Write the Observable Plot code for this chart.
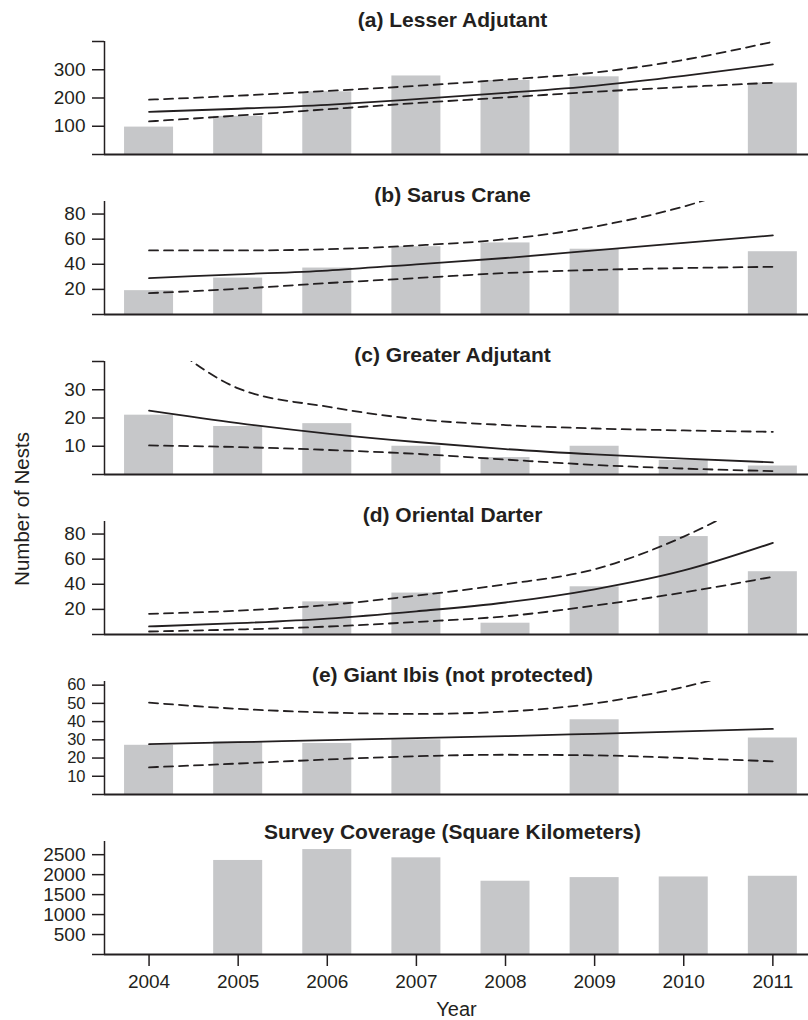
<!DOCTYPE html>
<html><head><meta charset="utf-8">
<script src="https://cdn.jsdelivr.net/npm/d3@7"></script>
<script src="https://cdn.jsdelivr.net/npm/@observablehq/plot@0.6"></script>
<style>
body{margin:0;background:#fff;}
#wrap{position:relative;width:808px;height:1020px;font-family:"Liberation Sans",Arial,sans-serif;color:#231f20;}
#wrap svg{display:block;}
#ylab{position:absolute;left:22px;top:509px;transform:translate(-50%,-50%) rotate(-90deg);font-size:20.5px;white-space:nowrap;}
</style></head><body><div id="wrap"><div id="ylab">Number of Nests</div></div>
<script>
const years = [2004, 2005, 2006, 2007, 2008, 2009, 2010, 2011];

// (a) Lesser Adjutant
const lesserCounts = [97, 135, 222, 278, 262, 275, null, 253];
const lesserFit    = [151, 162, 176, 196, 218, 243, 278, 319];
const lesserUpper  = [194, 208, 225, 243, 265, 290, 335, 399];
const lesserLower  = [117, 138, 160, 182, 202, 222, 239, 254];

// (b) Sarus Crane
const sarusCounts = [19, 29, 37, 54, 57, 52, null, 50];
const sarusFit    = [29, 32, 35, 40, 45, 51, 57, 63];
const sarusUpper  = [51, 51, 52, 55, 60, 70, 86, 110];
const sarusLower  = [17, 20.5, 25, 29, 33, 35.5, 37, 38];

// (c) Greater Adjutant
const greaterCounts = [21, 17, 18, 10, 6, 10, 5, 3];
const greaterFit    = [22.6, 18.2, 14.5, 11.5, 9.0, 7.1, 5.6, 4.3];
const greaterUpper  = [52, 30.5, 24, 19.6, 17.5, 16.3, 15.6, 15.1];
const greaterLower  = [10.3, 9.7, 8.7, 7.3, 5.3, 3.4, 2.1, 1.2];

// (d) Oriental Darter
const darterCounts = [null, null, 26, 33, 9, 38, 78, 50];
const darterFit    = [6.4, 9, 12.7, 18.5, 25.5, 36, 51, 73];
const darterUpper  = [16.5, 19, 23.5, 31, 40, 52, 78, 115];
const darterLower  = [2.4, 4, 6.3, 10, 14.5, 23, 33.5, 46];

// (e) Giant Ibis
const ibisCounts = [27, 29, 28, 30, null, 41, null, 31];
const ibisFit    = [27.6, 28.7, 29.8, 30.9, 32.0, 33.3, 34.6, 36];
const ibisUpper  = [50.4, 47, 45, 44.2, 45.5, 50, 59, 72];
const ibisLower  = [14.9, 17, 19.2, 21, 21.8, 21.5, 20, 18.2];

// Survey coverage
const coverage = [null, 2355, 2628, 2421, 1835, 1926, 1942, 1959];

const titles = ["(a) Lesser Adjutant", "(b) Sarus Crane", "(c) Greater Adjutant",
  "(d) Oriental Darter", "(e) Giant Ibis (not protected)", "Survey Coverage (Square Kilometers)"];
const yMaxes = [400, 90, 40, 90, 62, 2830];
const yTicks = [
  [0, 100, 200, 300, 400],
  [0, 20, 40, 60, 80],
  [0, 10, 20, 30, 40],
  [0, 20, 40, 60, 80],
  [0, 10, 20, 30, 40, 50, 60],
  [0, 500, 1000, 1500, 2000, 2500]
];
const yLabels = [
  [100, 200, 300],
  [20, 40, 60, 80],
  [10, 20, 30],
  [20, 40, 60, 80],
  [10, 20, 30, 40, 50, 60],
  [500, 1000, 1500, 2000, 2500]
];
const series = [
  [lesserCounts, lesserFit, lesserUpper, lesserLower],
  [sarusCounts, sarusFit, sarusUpper, sarusLower],
  [greaterCounts, greaterFit, greaterUpper, greaterLower],
  [darterCounts, darterFit, darterUpper, darterLower],
  [ibisCounts, ibisFit, ibisUpper, ibisLower],
  [coverage, null, null, null]
];

const ink = "#231f20";
const wrap = document.getElementById("wrap");

series.forEach(([counts, fit, upper, lower], i) => {
  const last = i === series.length - 1;
  const H = last ? 220 : 160;
  const mt = 41, fh = 113;
  const bars = years.map((year, j) => ({year, value: counts[j]})).filter(d => d.value != null);
  const marks = [
    Plot.rectY(bars, {x1: d => d.year - 0.275, x2: d => d.year + 0.275, y1: 0, y2: "value", fill: "#c6c7c9"})
  ];
  if (fit) {
    const line = arr => years.map((year, j) => ({year, v: arr[j]}));
    marks.push(Plot.line(line(upper), {x: "year", y: "v", curve: "monotone-x", stroke: ink, strokeWidth: 1.8, strokeDasharray: "9,6", clip: true}));
    marks.push(Plot.line(line(lower), {x: "year", y: "v", curve: "monotone-x", stroke: ink, strokeWidth: 1.8, strokeDasharray: "9,6", clip: true}));
    marks.push(Plot.line(line(fit), {x: "year", y: "v", curve: "monotone-x", stroke: ink, strokeWidth: 1.8, clip: true}));
  }
  const labs = yLabels[i];
  const dense = yTicks[i].length > 6;
  marks.push(
    Plot.ruleY([0], {stroke: ink, strokeWidth: 2}),
    Plot.ruleX([2003.5], {stroke: ink, strokeWidth: 1.5}),
    Plot.axisY({ticks: yTicks[i], tickSize: 12, tickPadding: 7, fontSize: dense ? 16.5 : 19, tickFormat: d => labs.includes(d) ? String(d) : "", label: null, stroke: ink, strokeWidth: 1.5, fill: ink}),
    Plot.text([titles[i]], {frameAnchor: "top", lineAnchor: "middle", dx: -4, dy: i === 0 ? -21 : (last ? -9 : -6), fontSize: 21, fontWeight: "bold", fill: ink})
  );
  if (last) {
    marks.push(
      Plot.axisX({ticks: years, tickSize: 12, tickPadding: 8, tickFormat: d => String(d), label: null, stroke: ink, strokeWidth: 1.5, fill: ink}),
      Plot.text(["Year"], {frameAnchor: "bottom", lineAnchor: "middle", dy: 55, fontSize: 20, fill: ink})
    );
  }
  const svg = Plot.plot({
    width: 808, height: H,
    marginTop: mt, marginBottom: H - mt - fh, marginLeft: 104, marginRight: 0,
    x: {domain: [2003.5, 2011.4], axis: null},
    y: {domain: [0, yMaxes[i]], axis: null},
    style: {fontFamily: "'Liberation Sans', Arial, sans-serif", fontSize: "19px", color: ink, background: "transparent", overflow: "visible"},
    marks
  });
  wrap.appendChild(svg);
});
</script>
</body></html>
